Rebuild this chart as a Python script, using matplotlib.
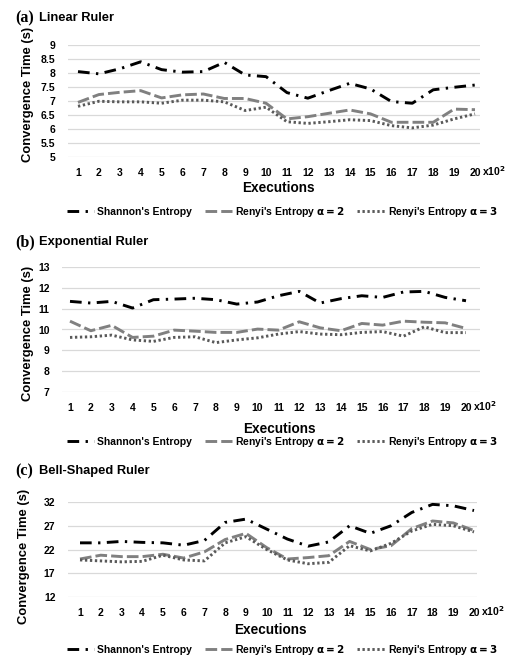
import matplotlib
matplotlib.use("Agg")
import matplotlib.pyplot as plt
from matplotlib.lines import Line2D
from matplotlib.transforms import blended_transform_factory

plt.rcParams["font.family"] = ["Liberation Sans", "DejaVu Sans"]
plt.rcParams["font.weight"] = "bold"
plt.rcParams["axes.labelweight"] = "bold"
plt.rcParams["mathtext.default"] = "bf"

# データ
executions = list(range(1, 21))

lin_shannon = [8.05, 7.97, 8.15, 8.40, 8.12, 8.03, 8.05, 8.38, 7.93, 7.87,
               7.30, 7.10, 7.37, 7.63, 7.43, 6.98, 6.92, 7.40, 7.49, 7.57]
lin_renyi2 = [6.95, 7.23, 7.31, 7.37, 7.11, 7.22, 7.25, 7.09, 7.09, 6.92,
              6.36, 6.44, 6.56, 6.68, 6.54, 6.24, 6.24, 6.24, 6.71, 6.69]
lin_renyi3 = [6.81, 6.99, 6.97, 6.97, 6.92, 7.03, 7.03, 6.97, 6.66, 6.78,
              6.26, 6.20, 6.26, 6.33, 6.30, 6.12, 6.04, 6.14, 6.36, 6.54]

exp_shannon = [11.35, 11.27, 11.35, 11.03, 11.43, 11.46, 11.50, 11.43, 11.22, 11.32,
               11.62, 11.83, 11.27, 11.48, 11.62, 11.54, 11.80, 11.83, 11.54, 11.38]
exp_renyi2 = [10.40, 9.94, 10.20, 9.62, 9.68, 9.97, 9.92, 9.86, 9.86, 10.02,
              9.97, 10.37, 10.08, 9.94, 10.29, 10.21, 10.40, 10.35, 10.32, 10.05]
exp_renyi3 = [9.62, 9.65, 9.73, 9.50, 9.43, 9.62, 9.65, 9.37, 9.50, 9.60,
              9.78, 9.90, 9.78, 9.75, 9.86, 9.90, 9.68, 10.13, 9.85, 9.85]

bell_shannon = [23.4, 23.4, 23.7, 23.5, 23.4, 22.9, 23.9, 27.7, 28.4, 26.3,
                24.2, 22.7, 23.6, 27.0, 25.4, 27.0, 29.8, 31.5, 31.2, 30.2]
bell_renyi2 = [20.0, 20.8, 20.5, 20.5, 21.0, 20.2, 21.5, 24.1, 25.4, 22.4,
               20.0, 20.3, 20.7, 23.7, 22.0, 22.8, 26.4, 28.0, 27.6, 26.0]
bell_renyi3 = [19.8, 19.6, 19.4, 19.5, 20.8, 19.8, 19.6, 23.4, 24.7, 22.0,
               19.8, 19.0, 19.3, 22.8, 21.7, 23.3, 25.9, 27.3, 27.0, 25.7]

panels = [
    ("(a)", "Linear Ruler", lin_shannon, lin_renyi2, lin_renyi3,
     [5, 5.5, 6, 6.5, 7, 7.5, 8, 8.5, 9]),
    ("(b)", "Exponential Ruler", exp_shannon, exp_renyi2, exp_renyi3,
     [7, 8, 9, 10, 11, 12, 13]),
    ("(c)", "Bell-Shaped Ruler", bell_shannon, bell_renyi2, bell_renyi3,
     [12, 17, 22, 27, 32]),
]

W, H = 508, 656
# (左, 右, 上, 下, x=1 の位置, x=20 の位置) [px]
boxes = [
    (68, 480, 45, 157, 78, 475),
    (62, 480, 267, 392, 70, 466),
    (68, 477, 502, 597, 80, 474),
]
title_y = [18, 242, 471]
xlabel_y = [188, 429, 630]
xlabel_x = [278, 279, 270]
ylabel_x = [28, 28, 24]
ylabel_y = [94, 333, 556]
legend_y = [212, 442, 650]

SH = dict(color="black", lw=2.1, dashes=(4, 2.2, 0.8, 2.2))
R2 = dict(color="#808080", lw=2.1, dashes=(4, 1.4))
R3 = dict(color="#595959", lw=2.1, dashes=(0.8, 0.9))

fig = plt.figure(figsize=(W / 100, H / 100), dpi=100)

for i, (tag, name, sh, r2, r3, yt) in enumerate(panels):
    l, r, t, b, x1, x20 = boxes[i]
    ax = fig.add_axes([l / W, 1 - b / H, (r - l) / W, (b - t) / H])
    ppu = (x20 - x1) / 19
    ax.set_xlim(1 - (x1 - l) / ppu, 20 + (r - x20) / ppu)
    ax.set_ylim(yt[0], yt[-1])

    ax.plot(executions, sh, **SH)
    ax.plot(executions, r2, **R2)
    ax.plot(executions, r3, **R3)

    ax.set_yticks(yt)
    ax.set_yticklabels([f"{v:g}" for v in yt], fontweight="bold")
    ax.set_xticks(executions)
    ax.set_xticklabels([str(v) for v in executions], fontweight="bold")
    ax.tick_params(length=0, labelsize=7.5, pad=8)
    ax.tick_params(axis="y", pad=9)
    ax.grid(axis="y", color="#d9d9d9", lw=0.9)
    ax.set_axisbelow(True)
    for s in ax.spines.values():
        s.set_visible(False)

    tr = blended_transform_factory(ax.transData, ax.transAxes)
    ax.annotate("x10$^{2}$", xy=(20, 0), xycoords=tr, xytext=(5, -13.6),
                textcoords="offset points", ha="left", va="baseline",
                fontsize=7.5, fontweight="bold")

    fig.text(ylabel_x[i] / W, 1 - ylabel_y[i] / H, "Convergence Time (s)",
             rotation=90, ha="center", va="center", fontsize=9.4,
             fontweight="bold")
    fig.text(xlabel_x[i] / W, 1 - xlabel_y[i] / H, "Executions",
             ha="center", va="center", fontsize=9.8, fontweight="bold")

    fig.text(15 / W, 1 - title_y[i] / H, tag, family="Liberation Serif",
             fontsize=11.5, fontweight="bold", ha="left", va="center")
    fig.text(39 / W, 1 - title_y[i] / H, name, fontsize=9.3,
             fontweight="bold", ha="left", va="center")

    handles = [Line2D([], [], **SH), Line2D([], [], **R2), Line2D([], [], **R3)]
    labels = ["Shannon's Entropy", r"Renyi's Entropy $\alpha = 2$",
              r"Renyi's Entropy $\alpha = 3$"]
    fig.legend(handles, labels, loc="center", ncol=3, frameon=False,
               bbox_to_anchor=(0.556, 1 - legend_y[i] / H),
               prop={"size": 7.5, "weight": "bold"},
               handlelength=2.6, handletextpad=0.3, columnspacing=1.2)

fig.savefig("out.png", dpi=100)
